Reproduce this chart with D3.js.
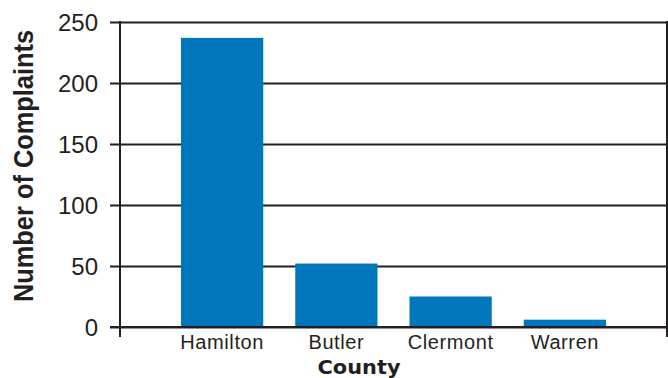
<!DOCTYPE html>
<html>
<head>
<meta charset="utf-8">
<script src="https://cdn.jsdelivr.net/npm/d3@7"></script>
<style>
  body { margin: 0; background: #fff; }
</style>
</head>
<body>
<script>
var w = 668;
var h = 378;

var counties = ["Hamilton", "Butler", "Clermont", "Warren"];
var complaints = [237, 52, 25, 6];
var yTicks = [0, 50, 100, 150, 200, 250];

var plotLeft = 120, plotRight = 667, plotTop = 22, plotBottom = 327;
var ink = "#231f20";

var xScale = d3.scaleBand()
    .domain(counties)
    .range([165, 622])
    .paddingInner(0.28)
    .paddingOuter(0.14);

var yScale = d3.scaleLinear()
    .domain([0, 250])
    .range([plotBottom, plotTop]);

var svg = d3.select("body")
    .append("svg")
    .attr("width", w)
    .attr("height", h);

// gridlines + y tick labels
var yAxis = d3.axisLeft(yScale)
    .tickValues(yTicks)
    .tickSize(0)
    .tickPadding(0);

var gy = svg.append("g")
    .call(yAxis);
gy.select(".domain").remove();
gy.selectAll(".tick line")
    .attr("x1", 110)
    .attr("x2", plotRight)
    .attr("stroke", ink)
    .attr("stroke-width", 2);
gy.selectAll(".tick text")
    .attr("x", 98)
    .attr("dy", "0.36em")
    .attr("fill", ink)
    .style("font-family", "Liberation Sans, Arial, sans-serif")
    .style("font-size", "24px");

// bars
svg.selectAll("rect.bar")
    .data(complaints)
    .enter()
    .append("rect")
    .attr("class", "bar")
    .attr("x", function(d, i) { return xScale(counties[i]); })
    .attr("y", function(d) { return yScale(d); })
    .attr("width", xScale.bandwidth())
    .attr("height", function(d) { return yScale(0) - yScale(d); })
    .attr("fill", "#0077bd");

// frame: left axis and right border
svg.append("line")
    .attr("x1", plotLeft).attr("x2", plotLeft)
    .attr("y1", plotTop - 1).attr("y2", plotBottom + 10)
    .attr("stroke", ink).attr("stroke-width", 2);
svg.append("line")
    .attr("x1", plotRight).attr("x2", plotRight)
    .attr("y1", plotTop - 1).attr("y2", plotBottom + 10)
    .attr("stroke", ink).attr("stroke-width", 2);
svg.append("line")
    .attr("x1", 110).attr("x2", plotRight)
    .attr("y1", plotBottom).attr("y2", plotBottom)
    .attr("stroke", ink).attr("stroke-width", 2);

// x labels
var xAxis = d3.axisBottom(xScale).tickSize(0).tickPadding(0);
var gx = svg.append("g")
    .attr("transform", "translate(0," + plotBottom + ")")
    .call(xAxis);
gx.select(".domain").remove();
gx.selectAll(".tick text")
    .attr("y", 22)
    .attr("dy", 0)
    .attr("fill", ink)
    .style("font-family", "Liberation Sans, Arial, sans-serif")
    .style("font-size", "20px")
    .style("letter-spacing", "0.6px");

// axis titles
svg.append("text")
    .attr("text-anchor", "middle")
    .attr("x", 359)
    .attr("y", 374)
    .text("County")
    .attr("fill", ink)
    .attr("textLength", 83)
    .attr("lengthAdjust", "spacingAndGlyphs")
    .style("font-family", "DejaVu Sans, sans-serif")
    .style("font-size", "19px")
    .style("font-weight", "bold");

svg.append("text")
    .attr("text-anchor", "middle")
    .attr("transform", "rotate(-90)")
    .attr("x", -166)
    .attr("y", 33)
    .text("Number of Complaints")
    .attr("fill", ink)
    .attr("textLength", 272)
    .attr("lengthAdjust", "spacingAndGlyphs")
    .style("font-family", "Liberation Sans, Arial, sans-serif")
    .style("font-size", "28px")
    .style("font-weight", "bold");
</script>
</body>
</html>
